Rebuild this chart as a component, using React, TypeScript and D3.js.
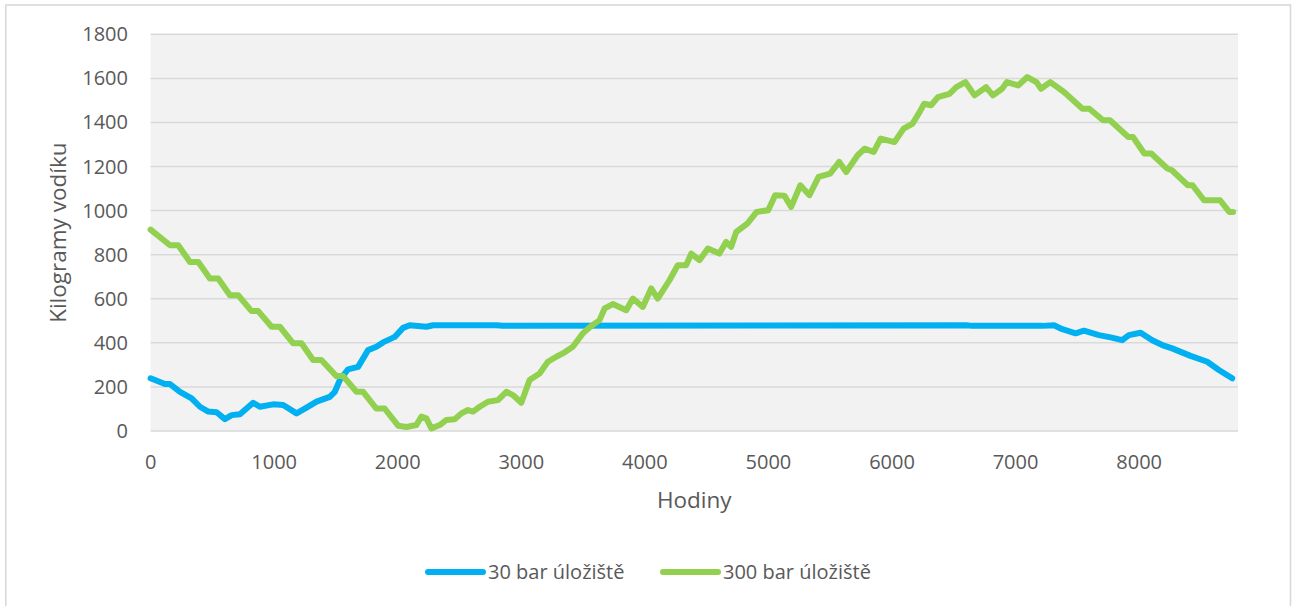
import React from "react";
import * as d3 from "d3";

const xTicks = [0, 1000, 2000, 3000, 4000, 5000, 6000, 7000, 8000];
const yTicks = [0, 200, 400, 600, 800, 1000, 1200, 1400, 1600, 1800];

const seriesNames = ["30 bar úložiště", "300 bar úložiště"];
const seriesColors = ["#00B0F0", "#92D050"];

const hours30 = [0, 116, 157, 238, 332, 399, 467, 534, 601, 656, 723, 830, 884, 992, 1073, 1181, 1262, 1343, 1450, 1491, 1531, 1598, 1679, 1760, 1827, 1881, 1976, 2043, 2097, 2232, 2286, 2800, 2850, 6600, 6650, 7217, 7311, 7378, 7486, 7553, 7675, 7770, 7863, 7917, 8012, 8106, 8187, 8267, 8416, 8551, 8645, 8753];
const kg30 = [239, 213, 213, 178, 148, 110, 88, 85, 54, 72, 76, 128, 110, 121, 118, 80, 106, 133, 155, 178, 231, 280, 291, 367, 382, 402, 427, 468, 480, 473, 480, 480, 478, 480, 477, 477, 480, 462, 443, 455, 435, 425, 412, 435, 446, 412, 390, 375, 341, 314, 277, 239];

const hours300 = [0, 157, 224, 318, 386, 480, 547, 642, 709, 817, 871, 979, 1046, 1154, 1221, 1315, 1382, 1504, 1558, 1666, 1720, 1827, 1894, 2003, 2070, 2151, 2191, 2232, 2272, 2340, 2394, 2461, 2515, 2569, 2609, 2663, 2730, 2811, 2879, 2932, 3000, 3067, 3148, 3215, 3283, 3336, 3417, 3498, 3552, 3633, 3674, 3741, 3849, 3903, 3983, 4051, 4104, 4199, 4266, 4334, 4375, 4442, 4510, 4603, 4657, 4698, 4739, 4831, 4905, 4998, 5054, 5129, 5184, 5258, 5332, 5406, 5499, 5573, 5629, 5722, 5778, 5852, 5908, 6020, 6094, 6167, 6223, 6260, 6316, 6372, 6465, 6520, 6594, 6668, 6761, 6817, 6891, 6929, 7021, 7095, 7169, 7206, 7281, 7392, 7541, 7597, 7708, 7764, 7912, 7950, 8042, 8098, 8228, 8265, 8394, 8432, 8525, 8655, 8729, 8760];
const kg300 = [914, 843, 843, 767, 767, 692, 692, 616, 616, 544, 544, 473, 473, 398, 398, 322, 322, 249, 249, 178, 178, 102, 102, 24, 18, 27, 65, 57, 12, 27, 50, 53, 80, 95, 88, 110, 133, 140, 178, 163, 128, 231, 261, 314, 337, 352, 382, 443, 470, 503, 556, 576, 548, 601, 563, 647, 601, 684, 752, 752, 805, 775, 828, 805, 858, 835, 903, 942, 994, 1002, 1070, 1068, 1017, 1115, 1070, 1153, 1168, 1221, 1175, 1251, 1281, 1266, 1327, 1311, 1372, 1395, 1447, 1485, 1478, 1515, 1530, 1560, 1583, 1523, 1560, 1523, 1553, 1583, 1568, 1606, 1583, 1553, 1583, 1538, 1462, 1462, 1410, 1410, 1334, 1334, 1259, 1259, 1191, 1183, 1115, 1115, 1047, 1047, 994, 994];

const W = 1292;
const H = 606;
const FONT = "'Open Sans', 'Noto Sans', sans-serif";
const TXT = "#595959";

export default function App() {
  const x = d3.scaleLinear().domain([0, 8800]).range([150.6, 1238]);
  const y = d3.scaleLinear().domain([0, 1800]).range([431, 34.3]);
  const line = d3
    .line<[number, number]>()
    .x((d) => x(d[0]))
    .y((d) => y(d[1]));
  const s30: [number, number][] = hours30.map((h, i) => [h, kg30[i]]);
  const s300: [number, number][] = hours300.map((h, i) => [h, kg300[i]]);
  const [x0, x1] = x.range();
  const legendItems = [
    { name: seriesNames[0], color: seriesColors[0], lx: 428 },
    { name: seriesNames[1], color: seriesColors[1], lx: 663 },
  ];
  return (
    <svg
      width={W}
      height={H}
      style={{ position: "absolute", left: 0, top: 0, background: "#fff" }}
      fontFamily={FONT}
    >
      <rect x={5.8} y={5} width={1284.7} height={620} fill="#fff" stroke="#d9d9d9" strokeWidth={1.6} />
      <rect x={x0} y={y(1800)} width={x1 - x0} height={y(0) - y(1800)} fill="#f2f2f2" />
      {yTicks.map((t) => (
        <line key={"g" + t} x1={x0} x2={x1} y1={y(t)} y2={y(t)} stroke="#d9d9d9" strokeWidth={1.5} />
      ))}
      {yTicks.map((t) => (
        <text key={"yl" + t} x={128} y={y(t)} dy="0.35em" textAnchor="end" fontSize={20} fill={TXT}>
          {t}
        </text>
      ))}
      {xTicks.map((t) => (
        <text key={"xl" + t} x={x(t)} y={462} dy="0.35em" textAnchor="middle" fontSize={20} fill={TXT}>
          {t}
        </text>
      ))}
      <path d={line(s30) || ""} fill="none" stroke={seriesColors[0]} strokeWidth={6} strokeLinejoin="round" strokeLinecap="round" />
      <path d={line(s300) || ""} fill="none" stroke={seriesColors[1]} strokeWidth={6} strokeLinejoin="round" strokeLinecap="round" />
      <text x={(x0 + x1) / 2} y={500} dy="0.35em" textAnchor="middle" fontSize={22.5} fill={TXT}>
        Hodiny
      </text>
      <text
        transform={`translate(58, ${(y(0) + y(1800)) / 2}) rotate(-90)`}
        dy="0.35em"
        textAnchor="middle"
        fontSize={22.5}
        fill={TXT}
      >
        Kilogramy vodíku
      </text>
      {legendItems.map((it) => (
        <g key={it.name}>
          <line x1={it.lx} x2={it.lx + 55} y1={572} y2={572} stroke={it.color} strokeWidth={6} strokeLinecap="round" />
          <text x={it.lx + 60} y={572} dy="0.35em" fontSize={20} fill={TXT}>
            {it.name}
          </text>
        </g>
      ))}
    </svg>
  );
}
